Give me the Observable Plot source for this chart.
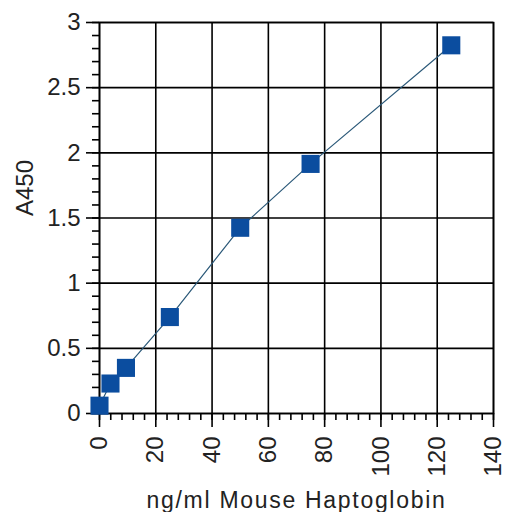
<!DOCTYPE html>
<html>
<head>
<meta charset="utf-8">
<script src="https://cdn.jsdelivr.net/npm/d3@7"></script>
<script src="https://cdn.jsdelivr.net/npm/@observablehq/plot@0.6"></script>
<style>
  html, body { margin: 0; padding: 0; background: #fff; }
</style>
</head>
<body>
<div id="chart"></div>
<script>
// Data
const concentration = [0, 3.9, 9.4, 25, 50, 75, 125];      // ng/ml
const absorbance    = [0.06, 0.23, 0.35, 0.74, 1.425, 1.915, 2.825]; // A450

const xTicks = [0, 20, 40, 60, 80, 100, 120, 140];
const xTickLabels = ["0", "20", "40", "60", "80", "100", "120", "140"];
const yTicks = [0, 0.5, 1, 1.5, 2, 2.5, 3];
const yTickLabels = ["0", "0.5", "1", "1.5", "2", "2.5", "3"];
const xMinor = d3.range(0, 141, 4);
const yMinor = d3.range(0, 31, 1).map(d => d / 10);

const xLabel = "ng/ml Mouse Haptoglobin";
const yLabel = "A450";

const data = concentration.map((x, i) => ({x, y: absorbance[i]}));

const font = "'Liberation Sans', Arial, sans-serif";
const ink = "#222";

const chart = Plot.plot({
  width: 506,
  height: 512,
  marginLeft: 99,
  marginRight: 13,
  marginTop: 22,
  marginBottom: 99,
  style: {fontFamily: font, background: "#fff", color: ink},
  x: {domain: [0, 140], nice: false},
  y: {domain: [0, 3], nice: false},
  marks: [
    Plot.gridX(xTicks, {stroke: "#000", strokeOpacity: 1, strokeWidth: 1.6}),
    Plot.gridY(yTicks, {stroke: "#000", strokeOpacity: 1, strokeWidth: 1.6}),
    Plot.frame({stroke: "#000", strokeWidth: 1.6}),
    // minor ticks
    Plot.axisX(xMinor, {anchor: "bottom", tickSize: 7, tickFormat: () => "", label: null, stroke: "#000", strokeWidth: 1.6}),
    Plot.axisY(yMinor, {anchor: "left", tickSize: 7, tickFormat: () => "", label: null, stroke: "#000", strokeWidth: 1.6}),
    // major ticks with labels
    Plot.axisX(xTicks, {
      anchor: "bottom", tickSize: 14, tickPadding: 9, tickRotate: -90,
      tickFormat: d => xTickLabels[xTicks.indexOf(d)],
      fontSize: 24, label: null, stroke: "#000", strokeWidth: 1.6, fill: ink
    }),
    Plot.axisY(yTicks, {
      anchor: "left", tickSize: 13, tickPadding: 6,
      tickFormat: d => yTickLabels[yTicks.indexOf(d)],
      fontSize: 24, label: null, stroke: "#000", strokeWidth: 1.6, fill: ink
    }),
    // axis titles
    Plot.text([xLabel], {frameAnchor: "bottom", text: d => d, dy: 87, lineAnchor: "middle", fontSize: 23, fill: ink}),
    Plot.text([yLabel], {frameAnchor: "left", text: d => d, rotate: -90, dx: -74, dy: -2, lineAnchor: "middle", fontSize: 24, fill: ink}),
    // data
    Plot.line(data, {x: "x", y: "y", stroke: "#2a5878", strokeWidth: 1.2}),
    Plot.dot(data, {x: "x", y: "y", symbol: "square", r: 10.2, fill: "#0b4d9f", stroke: null})
  ]
});

d3.select(chart).selectAll("text")
  .filter(function() { return this.textContent === xLabel; })
  .attr("letter-spacing", "1.7px");

document.getElementById("chart").appendChild(chart);
</script>
</body>
</html>
